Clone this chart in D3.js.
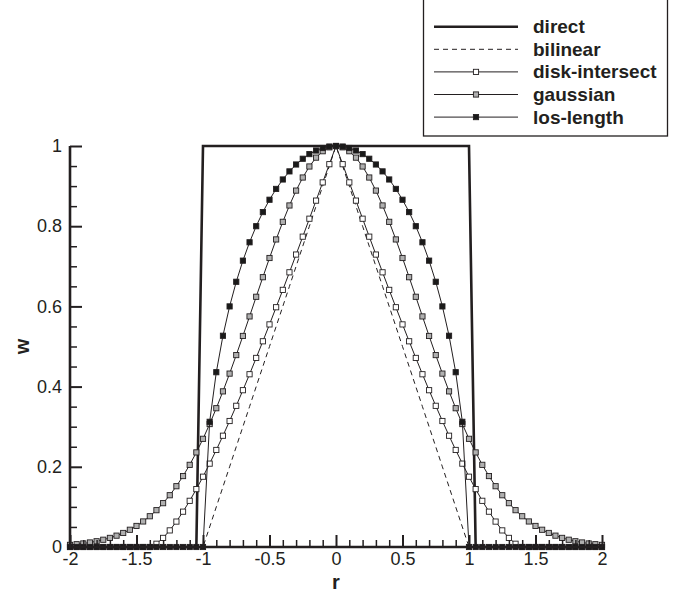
<!DOCTYPE html>
<html>
<head>
<meta charset="utf-8">
<script src="https://cdn.jsdelivr.net/npm/d3@7"></script>
<style>
  html, body { margin: 0; padding: 0; background: #fff; }
  svg { display: block; }
  text { font-family: "Liberation Sans", Arial, Helvetica, sans-serif; fill: #231f20; }
</style>
</head>
<body>
<svg id="chart" width="685" height="594"></svg>
<script>
// ---- data ----
const r = [-2,-1.95,-1.9,-1.85,-1.8,-1.75,-1.7,-1.65,-1.6,-1.55,-1.5,-1.45,-1.4,-1.35,-1.3,-1.25,-1.2,-1.15,-1.1,-1.05,-1,-0.95,-0.9,-0.85,-0.8,-0.75,-0.7,-0.65,-0.6,-0.55,-0.5,-0.45,-0.4,-0.35,-0.3,-0.25,-0.2,-0.15,-0.1,-0.05,0,0.05,0.1,0.15,0.2,0.25,0.3,0.35,0.4,0.45,0.5,0.55,0.6,0.65,0.7,0.75,0.8,0.85,0.9,0.95,1,1.05,1.1,1.15,1.2,1.25,1.3,1.35,1.4,1.45,1.5,1.55,1.6,1.65,1.7,1.75,1.8,1.85,1.9,1.95,2];

const direct = [0,0,0,0,0,0,0,0,0,0, 0,0,0,0,0,0,0,0,0,0,
  1,1,1,1,1,1,1,1,1,1, 1,1,1,1,1,1,1,1,1,1, 1,
  1,1,1,1,1,1,1,1,1,1, 1,1,1,1,1,1,1,1,1,1,
  0,0,0,0,0,0,0,0,0,0, 0,0,0,0,0,0,0,0,0,0];

const bilinear = [0,0,0,0,0,0,0,0,0,0, 0,0,0,0,0,0,0,0,0,0,
  0,0.05,0.1,0.15,0.2,0.25,0.3,0.35,0.4,0.45,0.5,0.55,0.6,0.65,0.7,0.75,0.8,0.85,0.9,0.95,
  1,
  0.95,0.9,0.85,0.8,0.75,0.7,0.65,0.6,0.55,0.5,0.45,0.4,0.35,0.3,0.25,0.2,0.15,0.1,0.05,0,
  0,0,0,0,0,0,0,0,0,0, 0,0,0,0,0,0,0,0,0,0];

const diskIntersect = [0,0,0,0,0,0,0,0,0,0, 0,0,0,
  0.0081,0.0227,0.0414,0.0634,0.0881,0.1152,0.1443,
  0.1753,0.2079,0.242,0.2775,0.3142,0.3521,0.391,0.4308,0.4715,0.513,
  0.5551,0.5979,0.6412,0.685,0.7293,0.7739,0.8187,0.8638,0.9092,0.9546,
  1,
  0.9546,0.9092,0.8638,0.8187,0.7739,0.7293,0.685,0.6412,0.5979,0.5551,
  0.513,0.4715,0.4308,0.391,0.3521,0.3142,0.2775,0.242,0.2079,0.1753,
  0.1443,0.1152,0.0881,0.0634,0.0414,0.0227,0.0081,
  0,0,0, 0,0,0,0,0,0,0,0,0,0];

const gaussian = [0.0053,0.0069,0.0088,0.0113,0.0143,0.0181,0.0227,0.0283,0.035,0.043,
  0.0525,0.0637,0.0767,0.0918,0.1093,0.1291,0.1516,0.1769,0.2049,0.2359,
  0.2698,0.3066,0.3461,0.3881,0.4324,0.4786,0.5263,0.575,0.624,0.6728,
  0.7207,0.767,0.8109,0.8517,0.8888,0.9214,0.9489,0.971,0.987,0.9967,
  1,
  0.9967,0.987,0.971,0.9489,0.9214,0.8888,0.8517,0.8109,0.767,0.7207,
  0.6728,0.624,0.575,0.5263,0.4786,0.4324,0.3881,0.3461,0.3066,0.2698,
  0.2359,0.2049,0.1769,0.1516,0.1291,0.1093,0.0918,0.0767,0.0637,0.0525,
  0.043,0.035,0.0283,0.0227,0.0181,0.0143,0.0113,0.0088,0.0069,0.0053];

const losLength = [0,0,0,0,0,0,0,0,0,0, 0,0,0,0,0,0,0,0,0,0, 0,
  0.3122,0.4359,0.5268,0.6,0.6614,0.7141,0.7599,0.8,0.8352,0.866,
  0.893,0.9165,0.9367,0.9539,0.9682,0.9798,0.9887,0.995,0.9987,
  1,
  0.9987,0.995,0.9887,0.9798,0.9682,0.9539,0.9367,0.9165,0.893,
  0.866,0.8352,0.8,0.7599,0.7141,0.6614,0.6,0.5268,0.4359,0.3122,
  0,0,0,0,0,0,0,0,0,0, 0,0,0,0,0,0,0,0,0,0, 0];

const seriesNames = ["direct", "bilinear", "disk-intersect", "gaussian", "los-length"];
const xMajorTicks = [-2,-1.5,-1,-0.5,0,0.5,1,1.5,2];
const xTickLabels = ["-2","-1.5","-1","-0.5","0","0.5","1","1.5","2"];
const yMajorTicks = [0,0.2,0.4,0.6,0.8,1];
const yTickLabels = ["0","0.2","0.4","0.6","0.8","1"];
const xLabel = "r";
const yLabel = "w";

// ---- styles ----
const styles = {
  "direct":         {width: 2.6, dash: null,  marker: null},
  "bilinear":       {width: 1,   dash: "5,4", marker: null},
  "disk-intersect": {width: 1,   dash: null,  marker: "#ffffff"},
  "gaussian":       {width: 1,   dash: null,  marker: "#b0b0b0"},
  "los-length":     {width: 1,   dash: null,  marker: "#1a1a1a"}
};
const seriesData = {
  "direct": direct, "bilinear": bilinear, "disk-intersect": diskIntersect,
  "gaussian": gaussian, "los-length": losLength
};

const svg = d3.select("#chart");
const x = d3.scaleLinear().domain([-2, 2]).range([70, 602]);
const y = d3.scaleLinear().domain([0, 1]).range([547, 146]);
const ink = "#231f20";
const M = 5.2; // marker size

// series
const line = d3.line().x((d) => x(d[0])).y((d) => y(d[1]));
const gSeries = svg.append("g");
seriesNames.forEach((name) => {
  const vals = seriesData[name];
  const pts = r.map((rv, i) => [rv, vals[i]]);
  const st = styles[name];
  gSeries.append("path")
    .attr("d", line(pts))
    .attr("fill", "none")
    .attr("stroke", ink)
    .attr("stroke-width", st.width)
    .attr("stroke-dasharray", st.dash)
    .attr("stroke-linejoin", "miter");
  if (st.marker) {
    gSeries.append("g").selectAll("rect").data(pts).join("rect")
      .attr("x", (d) => x(d[0]) - M / 2)
      .attr("y", (d) => y(d[1]) - M / 2)
      .attr("width", M).attr("height", M)
      .attr("fill", st.marker)
      .attr("stroke", ink).attr("stroke-width", 0.9);
  }
});

// axes (inward ticks)
const xMinor = d3.range(-20, 21).map((k) => k / 10).filter((v) => !xMajorTicks.some((m) => Math.abs(m - v) < 1e-9));
const yMinor = d3.range(0, 21).map((k) => k / 20).filter((v) => !yMajorTicks.some((m) => Math.abs(m - v) < 1e-9));

const gx = svg.append("g").attr("transform", `translate(0,${y(0)})`)
  .call(d3.axisBottom(x).tickValues(xMajorTicks).tickSize(-12).tickFormat((d, i) => xTickLabels[i]));
gx.select(".domain").remove();
gx.selectAll(".tick line").attr("stroke", ink).attr("stroke-width", 2);
gx.selectAll(".tick text").attr("font-size", 18).attr("fill", ink)
  .attr("font-family", '"Liberation Sans", Arial, sans-serif').attr("y", 5).attr("dy", "0.71em");
const gxm = svg.append("g").attr("transform", `translate(0,${y(0)})`)
  .call(d3.axisBottom(x).tickValues(xMinor).tickSize(-7).tickFormat(""));
gxm.select(".domain").remove();
gxm.selectAll(".tick line").attr("stroke", ink).attr("stroke-width", 1.5);

const gy = svg.append("g").attr("transform", `translate(${x(-2)},0)`)
  .call(d3.axisLeft(y).tickValues(yMajorTicks).tickSize(-12).tickFormat((d, i) => yTickLabels[i]));
gy.select(".domain").remove();
gy.selectAll(".tick line").attr("stroke", ink).attr("stroke-width", 2);
gy.selectAll(".tick text").attr("font-size", 18).attr("fill", ink)
  .attr("font-family", '"Liberation Sans", Arial, sans-serif').attr("x", -8);
const gym = svg.append("g").attr("transform", `translate(${x(-2)},0)`)
  .call(d3.axisLeft(y).tickValues(yMinor).tickSize(-7).tickFormat(""));
gym.select(".domain").remove();
gym.selectAll(".tick line").attr("stroke", ink).attr("stroke-width", 1.5);

// axis lines
svg.append("line").attr("x1", x(-2)).attr("x2", x(2)).attr("y1", y(0)).attr("y2", y(0))
  .attr("stroke", ink).attr("stroke-width", 2.6);
svg.append("line").attr("x1", x(-2)).attr("x2", x(-2)).attr("y1", y(0) + 1.3).attr("y2", y(1))
  .attr("stroke", ink).attr("stroke-width", 2.6);

// axis titles
svg.append("text").attr("x", x(0)).attr("y", 588.5).attr("text-anchor", "middle")
  .attr("font-size", 20).attr("font-weight", "bold").text(xLabel);
svg.append("text").attr("transform", `translate(29,${y(0.5)}) rotate(-90)`).attr("text-anchor", "middle")
  .attr("font-size", 20).attr("font-weight", "bold").text(yLabel);

// legend
const lg = svg.append("g");
lg.append("rect").attr("x", 423.5).attr("y", -1).attr("width", 244).attr("height", 137)
  .attr("fill", "#fff").attr("stroke", ink).attr("stroke-width", 1.3);
seriesNames.forEach((name, i) => {
  const cy = 26.7 + i * 22.6;
  const st = styles[name];
  lg.append("line").attr("x1", 434).attr("x2", 518).attr("y1", cy).attr("y2", cy)
    .attr("stroke", ink).attr("stroke-width", st.width).attr("stroke-dasharray", st.dash);
  if (st.marker) {
    lg.append("rect").attr("x", 476 - M / 2).attr("y", cy - M / 2).attr("width", M).attr("height", M)
      .attr("fill", st.marker).attr("stroke", ink).attr("stroke-width", 0.9);
  }
  lg.append("text").attr("x", 533).attr("y", cy + 6.5).attr("font-size", 19)
    .attr("font-weight", "bold").text(name);
});
</script>
</body>
</html>
